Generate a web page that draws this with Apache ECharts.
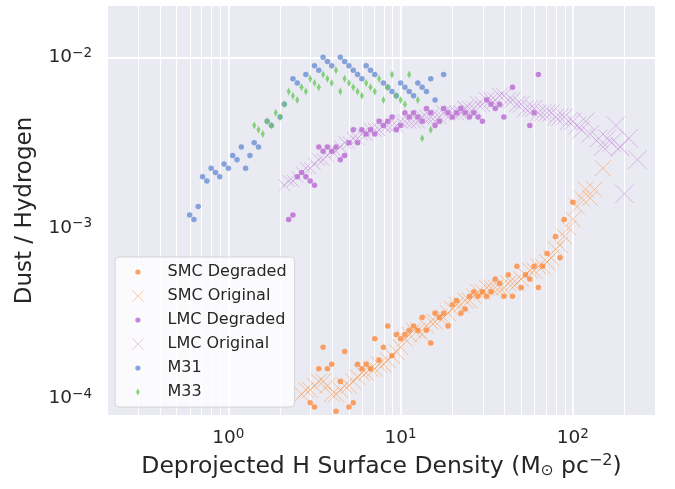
<!DOCTYPE html>
<html>
<head>
<meta charset="utf-8">
<title>Dust / Hydrogen</title>
<script src="https://cdn.jsdelivr.net/npm/echarts@6/dist/echarts.min.js"></script>
<style>
    html, body { margin: 0; padding: 0; background: #fff; }
    #chart { width: 675px; height: 489px; }
</style>
</head>
<body>
<div id="chart"></div>
<script>
// SMC, degraded resolution
var smcDegX = [2.985, 3.162, 3.350, 3.548, 3.758, 3.981, 4.217, 4.467, 4.732, 5.012,
    5.309, 5.623, 5.957, 6.310, 6.683, 7.079, 7.499, 7.943, 8.414, 8.913,
    9.441, 10.0, 10.59, 11.22, 11.89, 12.59, 13.34, 14.13, 14.96, 15.85,
    16.79, 17.78, 18.84, 19.95, 21.13, 22.39, 23.71, 25.12, 26.61, 28.18,
    29.85, 31.62, 33.50, 35.48, 37.58, 39.81, 42.17, 44.67, 47.32, 50.12,
    53.09, 56.23, 59.57, 63.10, 66.83, 70.79, 79.43, 84.14, 89.13, 100];
var smcDegY = [9.441e-5, 8.913e-5, 1.496e-4, 1.995e-4, 1.496e-4, 1.585e-4, 8.414e-5, 1.259e-4, 1.884e-4, 8.913e-5,
    9.441e-5, 1.585e-4, 1.496e-4, 1.585e-4, 1.496e-4, 2.239e-4, 1.679e-4, 1.995e-4, 2.661e-4, 1.778e-4,
    2.371e-4, 2.239e-4, 2.371e-4, 2.512e-4, 2.661e-4, 2.512e-4, 2.985e-4, 2.512e-4, 2.113e-4, 3.162e-4,
    2.985e-4, 3.162e-4, 2.661e-4, 3.548e-4, 3.758e-4, 3.162e-4, 3.350e-4, 3.981e-4, 4.217e-4, 3.981e-4,
    4.217e-4, 3.981e-4, 4.217e-4, 5.012e-4, 4.732e-4, 3.981e-4, 5.309e-4, 3.981e-4, 5.957e-4, 4.467e-4,
    5.309e-4, 5.012e-4, 5.957e-4, 4.467e-4, 5.957e-4, 7.079e-4, 8.913e-4, 6.683e-4, 1.122e-3, 1.413e-3];

// SMC, original resolution
var smcOrigX = [2.661, 2.818, 2.985, 3.162, 3.350, 3.548, 3.758, 3.981, 4.217, 4.467,
    4.732, 5.012, 5.309, 5.623, 5.957, 6.310, 6.683, 7.079, 7.499, 7.943,
    8.414, 8.913, 9.441, 10.0, 10.59, 11.22, 11.89, 12.59, 13.34, 14.13,
    14.96, 15.85, 16.79, 17.78, 18.84, 19.95, 21.13, 22.39, 23.71, 25.12,
    26.61, 28.18, 29.85, 31.62, 33.50, 35.48, 37.58, 39.81, 42.17, 44.67,
    47.32, 50.12, 53.09, 56.23, 59.57, 63.10, 66.83, 70.79, 74.99, 79.43,
    84.14, 89.13, 94.41, 100, 105.9, 112.2, 118.9, 125.9, 133.4, 149.6];
var smcOrigY = [1.059e-4, 1.122e-4, 1.122e-4, 1.189e-4, 1.259e-4, 1.259e-4, 1.189e-4, 1.059e-4, 1.059e-4, 1.122e-4,
    1.189e-4, 1.189e-4, 1.259e-4, 1.334e-4, 1.413e-4, 1.413e-4, 1.496e-4, 1.496e-4, 1.585e-4, 1.585e-4,
    1.679e-4, 1.778e-4, 1.884e-4, 1.995e-4, 2.239e-4, 2.371e-4, 2.512e-4, 2.512e-4, 2.371e-4, 2.661e-4,
    2.818e-4, 2.818e-4, 2.985e-4, 2.985e-4, 3.162e-4, 3.350e-4, 3.548e-4, 3.548e-4, 3.758e-4, 3.758e-4,
    3.981e-4, 4.217e-4, 4.217e-4, 4.467e-4, 4.467e-4, 4.467e-4, 4.467e-4, 4.467e-4, 4.732e-4, 4.732e-4,
    4.732e-4, 5.012e-4, 5.309e-4, 5.623e-4, 5.623e-4, 5.957e-4, 5.957e-4, 6.310e-4, 6.683e-4, 7.499e-4,
    7.943e-4, 8.913e-4, 1.0e-3, 1.122e-3, 1.334e-3, 1.496e-3, 1.679e-3, 1.496e-3, 1.679e-3, 2.239e-3];

// LMC, degraded resolution
var lmcDegX = [2.239, 2.371, 2.512, 2.661, 2.818, 2.985, 3.162, 3.350, 3.548, 3.758,
    3.981, 4.217, 4.467, 4.732, 5.012, 5.309, 5.623, 5.957, 6.310, 6.683,
    7.079, 7.499, 7.943, 8.414, 8.913, 9.441, 10.0, 10.59, 11.22, 11.89,
    12.59, 13.34, 14.13, 14.96, 15.85, 16.79, 17.78, 18.84, 19.95, 21.13,
    22.39, 23.71, 25.12, 26.61, 28.18, 29.85, 31.62, 33.50, 35.48, 37.58,
    39.81, 44.67, 56.23, 59.57, 63.10];
var lmcDegY = [1.122e-3, 1.189e-3, 1.995e-3, 2.113e-3, 1.995e-3, 1.884e-3, 1.778e-3, 2.985e-3, 2.818e-3, 2.985e-3,
    2.818e-3, 2.985e-3, 2.512e-3, 2.661e-3, 3.162e-3, 3.758e-3, 3.162e-3, 3.758e-3, 3.548e-3, 3.758e-3,
    3.548e-3, 4.217e-3, 3.981e-3, 4.217e-3, 4.467e-3, 3.758e-3, 3.981e-3, 4.732e-3, 4.467e-3, 4.732e-3,
    4.467e-3, 4.217e-3, 5.012e-3, 4.732e-3, 3.981e-3, 4.217e-3, 5.012e-3, 4.732e-3, 4.467e-3, 4.732e-3,
    5.012e-3, 4.732e-3, 4.467e-3, 4.732e-3, 4.467e-3, 4.217e-3, 5.623e-3, 5.309e-3, 5.012e-3, 5.309e-3,
    4.467e-3, 6.683e-3, 3.981e-3, 4.732e-3, 7.943e-3];

// LMC, original resolution
var lmcOrigX = [2.113, 2.239, 2.371, 2.512, 2.661, 2.818, 2.985, 3.162, 3.350, 3.548,
    3.758, 3.981, 4.217, 4.467, 4.732, 5.012, 5.309, 5.623, 5.957, 6.310,
    6.683, 7.079, 7.499, 7.943, 8.414, 8.913, 9.441, 10.0, 10.59, 11.22,
    11.89, 12.59, 13.34, 14.13, 14.96, 15.85, 16.79, 17.78, 18.84, 19.95,
    21.13, 22.39, 23.71, 25.12, 26.61, 28.18, 29.85, 31.62, 33.50, 35.48,
    37.58, 39.81, 42.17, 44.67, 47.32, 50.12, 53.09, 56.23, 59.57, 63.10,
    66.83, 70.79, 74.99, 79.43, 84.14, 89.13, 94.41, 100, 105.9, 112.2,
    118.9, 125.9, 141.3, 149.6, 158.5, 167.9, 177.8, 188.4, 199.5, 211.3, 237.1];
var lmcOrigY = [1.778e-3, 1.884e-3, 1.884e-3, 1.995e-3, 2.113e-3, 2.239e-3, 2.239e-3, 2.371e-3, 2.512e-3, 2.512e-3,
    2.661e-3, 2.818e-3, 2.818e-3, 2.985e-3, 3.162e-3, 3.162e-3, 3.350e-3, 3.350e-3, 3.548e-3, 3.548e-3,
    3.758e-3, 3.758e-3, 3.758e-3, 3.981e-3, 3.981e-3, 3.981e-3, 3.981e-3, 4.217e-3, 4.217e-3, 4.217e-3,
    4.217e-3, 4.217e-3, 4.467e-3, 4.467e-3, 4.467e-3, 4.467e-3, 4.467e-3, 4.732e-3, 4.732e-3, 4.732e-3,
    4.732e-3, 4.732e-3, 5.012e-3, 5.012e-3, 5.012e-3, 5.309e-3, 5.309e-3, 5.623e-3, 5.623e-3, 5.623e-3,
    5.957e-3, 5.957e-3, 5.623e-3, 5.623e-3, 5.309e-3, 5.309e-3, 5.012e-3, 5.012e-3, 5.012e-3, 4.732e-3,
    4.732e-3, 4.732e-3, 4.732e-3, 4.467e-3, 4.467e-3, 4.467e-3, 4.217e-3, 4.217e-3, 3.981e-3, 3.758e-3,
    4.217e-3, 3.548e-3, 3.350e-3, 2.985e-3, 3.350e-3, 3.162e-3, 3.981e-3, 2.985e-3, 1.585e-3, 3.350e-3, 2.512e-3];

// M31
var m31X = [0.596, 0.631, 0.668, 0.708, 0.750, 0.794, 0.841, 0.891, 0.944, 1.0,
    1.059, 1.122, 1.189, 1.259, 1.334, 1.413, 1.496, 1.679, 1.778, 1.995,
    2.113, 2.371, 2.512, 2.818, 3.162, 3.350, 3.548, 3.758, 3.981, 4.467,
    4.732, 5.012, 5.309, 5.623, 5.957, 6.310, 6.683, 7.079, 7.943, 8.414,
    8.913, 9.441, 10.0, 10.59, 11.22, 11.89, 12.59, 13.34, 14.13, 14.96,
    15.85, 17.78];
var m31Y = [1.189e-3, 1.122e-3, 1.334e-3, 1.995e-3, 1.884e-3, 2.239e-3, 2.113e-3, 1.995e-3, 2.371e-3, 2.239e-3,
    2.661e-3, 2.512e-3, 2.985e-3, 2.239e-3, 2.661e-3, 3.162e-3, 2.985e-3, 4.217e-3, 3.981e-3, 4.467e-3,
    5.309e-3, 7.499e-3, 7.079e-3, 7.943e-3, 8.913e-3, 8.414e-3, 1.0e-2, 9.441e-3, 8.913e-3, 1.0e-2,
    9.441e-3, 8.913e-3, 8.414e-3, 7.943e-3, 7.499e-3, 8.913e-3, 8.414e-3, 7.943e-3, 7.079e-3, 6.683e-3,
    6.310e-3, 5.957e-3, 7.079e-3, 6.683e-3, 6.310e-3, 5.957e-3, 7.079e-3, 6.683e-3, 6.310e-3, 7.499e-3,
    5.623e-3, 7.943e-3];

// M33
var m33X = [1.413, 1.496, 1.585, 1.679, 1.778, 1.884, 1.995, 2.113, 2.239, 2.371,
    2.512, 2.661, 2.818, 2.985, 3.162, 3.350, 3.548, 3.758, 3.981, 4.217,
    4.467, 4.732, 5.012, 5.309, 5.623, 5.957, 6.310, 6.683, 7.079, 7.499,
    7.943, 8.414, 8.913, 9.441, 10.0, 10.59, 11.22, 12.59, 13.34, 14.96];
var m33Y = [3.981e-3, 3.758e-3, 3.548e-3, 4.217e-3, 3.981e-3, 4.732e-3, 4.467e-3, 5.309e-3, 6.310e-3, 5.957e-3,
    5.623e-3, 6.683e-3, 6.310e-3, 7.499e-3, 7.079e-3, 6.683e-3, 7.943e-3, 7.499e-3, 7.079e-3, 8.414e-3,
    6.310e-3, 7.499e-3, 7.079e-3, 6.683e-3, 6.310e-3, 5.957e-3, 7.079e-3, 6.683e-3, 6.310e-3, 7.499e-3,
    5.623e-3, 6.683e-3, 7.943e-3, 5.957e-3, 5.623e-3, 5.309e-3, 7.943e-3, 5.623e-3, 3.350e-3, 3.758e-3];

// grid lines (log axes, major decades + 2..9 minor)
var xMajor = [1, 10, 100];
var xMinor = [0.3, 0.4, 0.5, 0.6, 0.7, 0.8, 0.9, 2, 3, 4, 5, 6, 7, 8, 9,
    20, 30, 40, 50, 60, 70, 80, 90, 200];
var yMajor = [1e-4, 1e-3, 1e-2];
var yMinor = [9e-5, 2e-4, 3e-4, 4e-4, 5e-4, 6e-4, 7e-4, 8e-4, 9e-4,
    2e-3, 3e-3, 4e-3, 5e-3, 6e-3, 7e-3, 8e-3, 9e-3];

var FONT = "DejaVu Sans";
var INK = "#262626";

var crossPath = "path://M0,0L10,10M10,0L0,10";
// legend icons, padded to a 40x14 box so they keep their pixel size
var dotIcon = "path://M0,0M40,14M15.4,4.4A2.6,2.6,0,1,1,15.4,9.6A2.6,2.6,0,1,1,15.4,4.4Z";
var crossIcon = "path://M0,0M40,14M10,1.6L21,12.6M21,1.6L10,12.6";
var diamondIcon = "path://M0,0M40,14M15.4,3.2L17.2,7L15.4,10.8L13.6,7Z";

function zip(xs, ys) {
    var out = [];
    for (var i = 0; i < xs.length; i++) {
        out.push([xs[i], ys[i]]);
    }
    return out;
}

/**
 * 10^n tick labels, blank for anything that is not a decade
 */
function powLabel(v) {
    var e = Math.log10(v);
    var n = Math.round(e);
    if (Math.abs(e - n) > 1e-6) return "";
    return "{b|10}{s|" + (n < 0 ? "\u2212" + (-n) : n) + "}";
}

function gridLines() {
    var data = [], i;
    for (i = 0; i < xMinor.length; i++) data.push({ xAxis: xMinor[i], lineStyle: { width: 1 } });
    for (i = 0; i < yMinor.length; i++) data.push({ yAxis: yMinor[i], lineStyle: { width: 1 } });
    for (i = 0; i < xMajor.length; i++) data.push({ xAxis: xMajor[i], lineStyle: { width: 1.8 } });
    for (i = 0; i < yMajor.length; i++) data.push({ yAxis: yMajor[i], lineStyle: { width: 1.8 } });
    return data;
}

var tickRich = {
    b: { fontFamily: FONT, fontSize: 18.5, color: INK },
    s: { fontFamily: FONT, fontSize: 13.5, color: INK, padding: [0, 0, 8, 0] }
};

var chart = echarts.init(document.getElementById("chart"));
var option = {
    animation: false,
    textStyle: { fontFamily: FONT },
    grid: {
        left: 108, right: 20, top: 6, bottom: 74,
        show: true, backgroundColor: "#eaeaf2", borderWidth: 0
    },
    legend: {
        orient: "vertical",
        left: 115,
        top: 257,
        padding: [7, 8, 7, 7],
        itemWidth: 40,
        itemHeight: 14,
        itemGap: 8,
        selectedMode: false,
        backgroundColor: "rgba(255,255,255,0.8)",
        borderColor: "#d4d4d8",
        borderWidth: 1,
        borderRadius: 4,
        textStyle: { fontFamily: FONT, fontSize: 16, color: INK },
        data: [
            { name: "SMC Degraded", icon: dotIcon },
            { name: "SMC Original", icon: crossIcon, itemStyle: { borderWidth: 1 } },
            { name: "LMC Degraded", icon: dotIcon },
            { name: "LMC Original", icon: crossIcon, itemStyle: { borderWidth: 1 } },
            { name: "M31", icon: dotIcon },
            { name: "M33", icon: diamondIcon }
        ]
    },
    xAxis: {
        type: "log",
        logBase: 10,
        min: 0.2,
        max: 300,
        axisLine: { show: false },
        axisTick: { show: false },
        splitLine: { show: false },
        axisLabel: {
            formatter: powLabel, margin: 12,
            showMinLabel: false, showMaxLabel: false,
            rich: tickRich
        },
        name: "{n|Deprojected H Surface Density (M}{sub|\u2299}{n| pc}{sup|\u22122}{n|)}",
        nameLocation: "middle",
        nameGap: 38,
        nameTextStyle: {
            rich: {
                n: { fontFamily: FONT, fontSize: 23.5, color: INK },
                sub: { fontFamily: FONT, fontSize: 15.5, color: INK, padding: [8, 0, 0, 0] },
                sup: { fontFamily: FONT, fontSize: 16, color: INK, padding: [0, 0, 11, 0] }
            }
        }
    },
    yAxis: {
        type: "log",
        logBase: 10,
        min: 8e-5,
        max: 0.02,
        axisLine: { show: false },
        axisTick: { show: false },
        splitLine: { show: false },
        axisLabel: {
            formatter: powLabel, margin: 16,
            showMinLabel: false, showMaxLabel: false,
            rich: tickRich
        },
        name: "Dust / Hydrogen",
        nameLocation: "middle",
        nameGap: 71,
        nameTextStyle: { fontFamily: FONT, fontSize: 23, color: INK }
    },
    series: [
        {
            // white grid, drawn under the points
            type: "scatter",
            data: [],
            silent: true,
            z: 1,
            markLine: {
                silent: true,
                z: 1,
                animation: false,
                symbol: ["none", "none"],
                label: { show: false },
                lineStyle: { color: "#ffffff", type: "solid" },
                emphasis: { disabled: true },
                data: gridLines()
            }
        },
        {
            name: "SMC Degraded", type: "scatter", z: 2, silent: true,
            data: zip(smcDegX, smcDegY),
            symbol: "circle", symbolSize: 5.5,
            itemStyle: { color: "#fc8a3d" }
        },
        {
            name: "SMC Original", type: "scatter", z: 2, silent: true,
            data: zip(smcOrigX, smcOrigY),
            symbol: crossPath, symbolSize: 16,
            itemStyle: { color: "rgba(0,0,0,0)", borderColor: "rgba(255,136,40,0.55)", borderWidth: 1 }
        },
        {
            name: "LMC Degraded", type: "scatter", z: 2, silent: true,
            data: zip(lmcDegX, lmcDegY),
            symbol: "circle", symbolSize: 5.5,
            itemStyle: { color: "#b868d0" }
        },
        {
            name: "LMC Original", type: "scatter", z: 2, silent: true,
            data: zip(lmcOrigX, lmcOrigY),
            symbol: crossPath,
            symbolSize: function (val) {
                return 10.5 + 3.5 * Math.log10(val[0]);
            },
            itemStyle: { color: "rgba(0,0,0,0)", borderColor: "rgba(190,118,214,0.55)", borderWidth: 1 }
        },
        {
            name: "M31", type: "scatter", z: 2, silent: true,
            data: zip(m31X, m31Y),
            symbol: "circle", symbolSize: 5.5,
            itemStyle: { color: "#6a8ed3" }
        },
        {
            name: "M33", type: "scatter", z: 2, silent: true,
            data: zip(m33X, m33Y),
            symbol: "diamond", symbolSize: [4, 8],
            itemStyle: { color: "#6bc95c" }
        }
    ]
};
chart.setOption(option);
</script>
</body>
</html>
